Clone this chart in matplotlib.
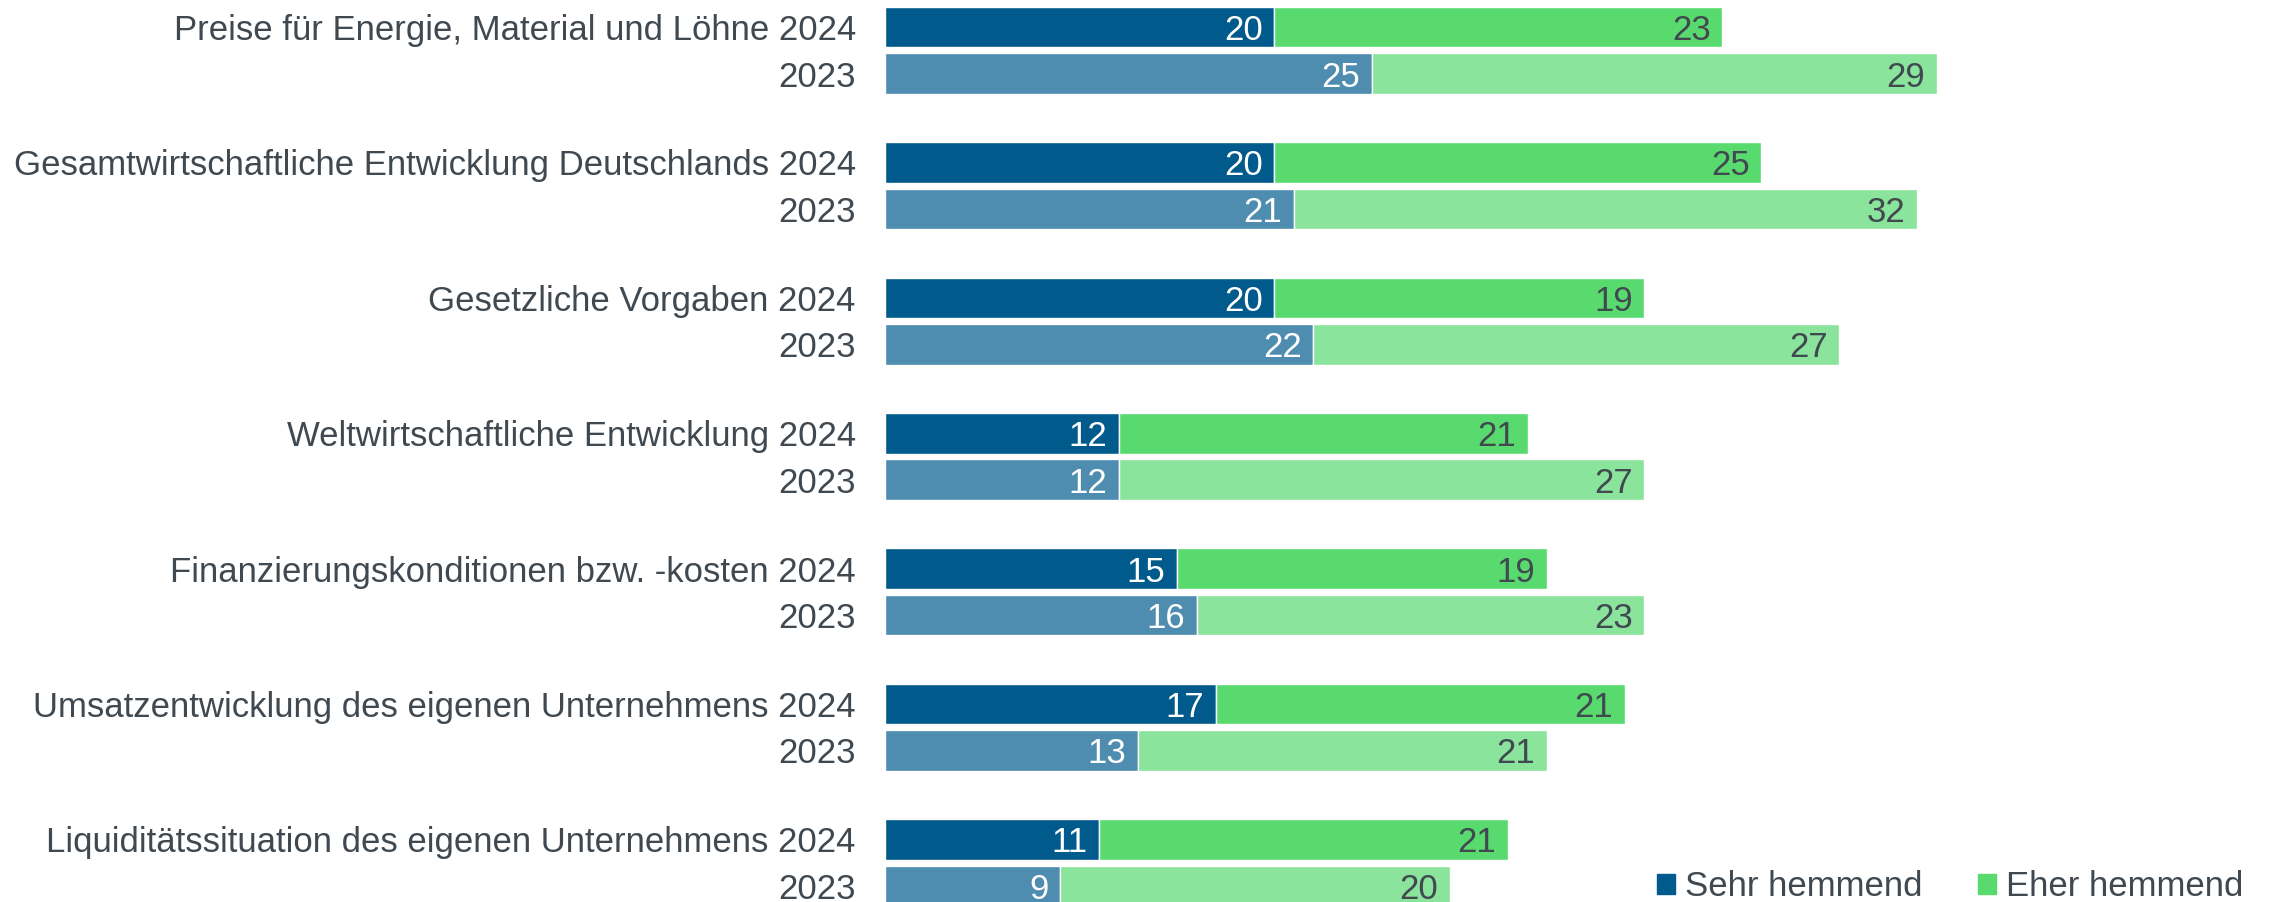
# hemmnisse.py
# Horizontal stacked bars: obstacles 2024 vs 2023

from matplotlib import pyplot as plt
from matplotlib.patches import Patch
import numpy as np

plt.rcParams['font.family'] = ['Liberation Sans', 'DejaVu Sans']

categories = ['Preise für Energie, Material und Löhne',
              'Gesamtwirtschaftliche Entwicklung Deutschlands',
              'Gesetzliche Vorgaben',
              'Weltwirtschaftliche Entwicklung',
              'Finanzierungskonditionen bzw. -kosten',
              'Umsatzentwicklung des eigenen Unternehmens',
              'Liquiditätssituation des eigenen Unternehmens']
sehr_2024 = [20, 20, 20, 12, 15, 17, 11]
eher_2024 = [23, 25, 19, 21, 19, 21, 21]
sehr_2023 = [25, 21, 22, 12, 16, 13, 9]
eher_2023 = [29, 32, 27, 27, 23, 21, 20]

DARK_BLUE = '#005A8C'
LIGHT_BLUE = '#4E8CB0'
GREEN = '#58DA6F'
LIGHT_GREEN = '#8AE49B'
TEXT = '#404850'

fig = plt.figure(figsize=(22.77, 9.02), dpi=100)
ax = fig.add_axes([885 / 2277, 0, 1 - 885 / 2277 - 0.005, 1])

idx = np.arange(len(categories))
y24 = idx
y23 = idx + 0.343
h = 0.30

ax.barh(y24, sehr_2024, height=h, color=DARK_BLUE, edgecolor='white', linewidth=1)
ax.barh(y24, eher_2024, left=sehr_2024, height=h, color=GREEN, edgecolor='white', linewidth=1)
ax.barh(y23, sehr_2023, height=h, color=LIGHT_BLUE, edgecolor='white', linewidth=1)
ax.barh(y23, eher_2023, left=sehr_2023, height=h, color=LIGHT_GREEN, edgecolor='white', linewidth=1)

fs = 25
for y, s, e in list(zip(y24, sehr_2024, eher_2024)) + list(zip(y23, sehr_2023, eher_2023)):
    ax.text(s - 0.6, y, str(s), ha='right', va='center_baseline', color='white', fontsize=fs)
    ax.text(s + e - 0.6, y, str(e), ha='right', va='center_baseline', color=TEXT, fontsize=fs)

ticks = list(y24) + list(y23)
labels = [c + ' 2024' for c in categories] + ['2023'] * len(categories)
ax.set_yticks(ticks)
ax.set_yticklabels(labels, fontsize=fs, color=TEXT, va='center_baseline')
ax.tick_params(axis='y', length=0, pad=21)
ax.set_xticks([])
ax.set_xlim(0, 70.9)
ax.set_ylim(6.462, -0.2)
for sp in ax.spines.values():
    sp.set_visible(False)

handles = [Patch(color=DARK_BLUE, label='Sehr hemmend'),
           Patch(color=GREEN, label='Eher hemmend')]
fig.legend(handles=handles, loc='lower right', bbox_to_anchor=(0.999, -0.036),
           ncol=2, frameon=False, fontsize=fs, handlelength=0.5, handleheight=0.5,
           handletextpad=0.3, columnspacing=1.6, labelcolor=TEXT)

plt.savefig('out.png', dpi=100)
